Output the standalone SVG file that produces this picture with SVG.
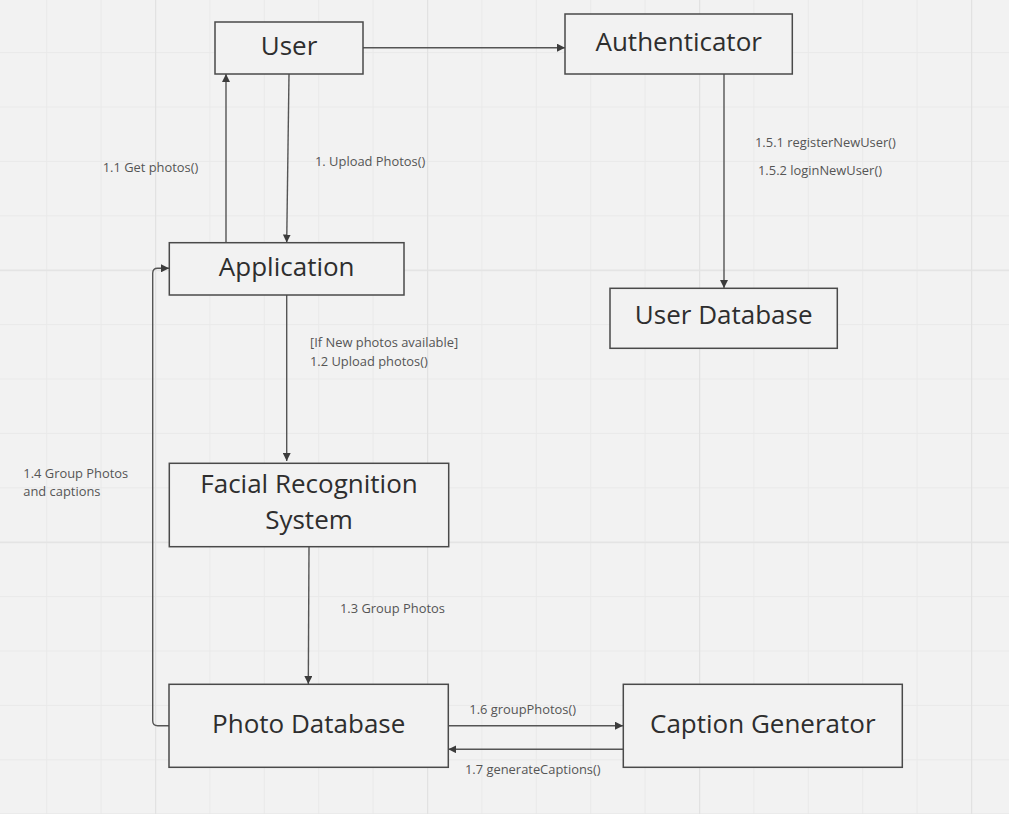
<svg xmlns="http://www.w3.org/2000/svg" width="1009" height="814" viewBox="0 0 1009 814">
<defs>
<pattern id="minor" patternUnits="userSpaceOnUse" x="155" y="269.7" width="54.4" height="54.4">
<path d="M0.5 0V54.4M0 0.5H54.4" stroke="#e9e9e9" stroke-width="1" fill="none"/>
</pattern>
<pattern id="major" patternUnits="userSpaceOnUse" x="155" y="269.7" width="272" height="272">
<path d="M0.5 0V272M0 0.5H272" stroke="#e2e2e2" stroke-width="1.5" fill="none"/>
</pattern>
<marker id="arr" viewBox="0 0 10 10" refX="10" refY="5" markerWidth="8" markerHeight="8" markerUnits="userSpaceOnUse" orient="auto">
<path d="M0 0L10 5L0 10z" fill="#3c3c3c"/>
</marker>
<style>
.box{fill:#f2f2f2;stroke:#4a4a4a;stroke-width:1.5}
.t{font-family:"Open Sans","Liberation Sans",sans-serif;font-size:26px;fill:#2e2e2e;text-anchor:middle}
.l{font-family:"Open Sans","Liberation Sans",sans-serif;font-size:12.9px;fill:#555}
.c{fill:none;stroke:#555;stroke-width:1.4}
</style>
</defs>
<rect width="1009" height="814" fill="#f2f2f2"/>
<rect width="1009" height="814" fill="url(#minor)"/>
<rect width="1009" height="814" fill="url(#major)"/>

<g id="connectors">
<line class="c" x1="363" y1="47.7" x2="565" y2="47.7" marker-end="url(#arr)"/>
<line class="c" x1="289" y1="74" x2="286.7" y2="242.5" marker-end="url(#arr)"/>
<line class="c" x1="226" y1="242.5" x2="226" y2="74" marker-end="url(#arr)"/>
<line class="c" x1="286.7" y1="295" x2="286.7" y2="461" marker-end="url(#arr)"/>
<line class="c" x1="309" y1="546.7" x2="308.3" y2="684" marker-end="url(#arr)"/>
<line class="c" x1="724" y1="74" x2="724" y2="288" marker-end="url(#arr)"/>
<line class="c" x1="448.3" y1="725.7" x2="623" y2="725.7" marker-end="url(#arr)"/>
<line class="c" x1="623" y1="749.3" x2="448.3" y2="749.3" marker-end="url(#arr)"/>
<path class="c" d="M169 725.7H157.7Q152.7 725.7 152.7 720.7V273.3Q152.7 268.3 157.7 268.3H169" marker-end="url(#arr)"/>
<text class="l" x="102.7" y="172.3">1.1 Get photos()</text>
<text class="l" x="315" y="166">1. Upload Photos()</text>
<text class="l" x="755" y="147">1.5.1 registerNewUser()</text>
<text class="l" x="758" y="175">1.5.2 loginNewUser()</text>
<text class="l" x="310" y="347">[If New photos available]</text>
<text class="l" x="310" y="366">1.2 Upload photos()</text>
<text class="l" x="23.3" y="477.7">1.4 Group Photos</text>
<text class="l" x="23.3" y="495.7">and captions</text>
<text class="l" x="340" y="612.7">1.3 Group Photos</text>
<text class="l" x="469.3" y="714">1.6 groupPhotos()</text>
<text class="l" x="465" y="774">1.7 generateCaptions()</text>
</g>

<g id="user">
<rect class="box" x="215" y="22" width="148" height="52"/>
<text class="t" x="289" y="55">User</text>
</g>
<g id="authenticator">
<rect class="box" x="565" y="14" width="227.3" height="60"/>
<text class="t" x="678.7" y="51">Authenticator</text>
</g>
<g id="user-database">
<rect class="box" x="610" y="288.3" width="227.3" height="60"/>
<text class="t" x="723.7" y="324.3">User Database</text>
</g>
<g id="application">
<rect class="box" x="169.3" y="242.7" width="234.7" height="52.3"/>
<text class="t" x="286.7" y="276">Application</text>
</g>
<g id="facial-recognition">
<rect class="box" x="169.3" y="463.3" width="279.4" height="83.4"/>
<text class="t" x="309" y="493.3">Facial Recognition</text>
<text class="t" x="309" y="529.3">System</text>
</g>
<g id="photo-database">
<rect class="box" x="169" y="684.3" width="279.3" height="83"/>
<text class="t" x="308.7" y="732.7">Photo Database</text>
</g>
<g id="caption-generator">
<rect class="box" x="623.3" y="684.3" width="279" height="83"/>
<text class="t" x="762.8" y="732.7">Caption Generator</text>
</g>
</svg>
